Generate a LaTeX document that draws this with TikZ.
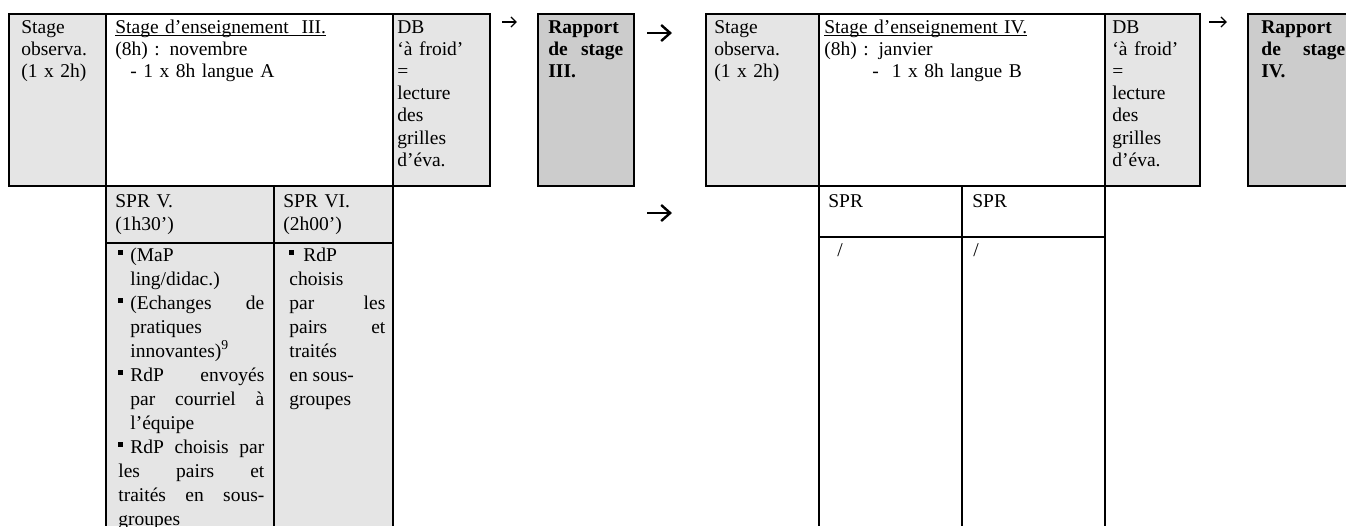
\documentclass[tikz,border=0pt]{standalone}
\usepackage{fontspec}
\setmainfont{Liberation Serif}
\usetikzlibrary{arrows.meta}

% small square bullet with hanging indent
\newcommand{\sqbul}[1]{\hangindent=#1\hangafter=1\noindent\makebox[#1][l]{\raisebox{3.2pt}{\rule{2.5pt}{2.5pt}}}}
% thin underline close to the baseline
\newsavebox{\ulbox}
\newcommand{\ulin}[1]{\sbox{\ulbox}{#1}\rlap{\rule[-1.6pt]{\wd\ulbox}{0.5pt}}\usebox{\ulbox}}

\begin{document}
\begin{tikzpicture}[x=0.5pt, y=-0.5pt,
    tablerule/.style={line width=1.1pt},
    litecell/.style={fill=gray!20},
    darkcell/.style={fill=gray!40},
    txt/.style={anchor=base west, inner sep=0pt, align=left,
                font=\fontsize{9.75}{11.1}\selectfont},
    bultxt/.style={txt, align=justify, font=\fontsize{9.75}{12}\selectfont},
    smallarr/.style={line width=0.6pt, -{Straight Barb[length=2.6pt, width=5pt]}},
    bigarr/.style={line width=1.2pt, -{Straight Barb[length=4.5pt, width=8pt]}}]
    \useasboundingbox (0,0) rectangle (1346,526);
    \clip (0,0) rectangle (1346,526);

    % left block: stage III
    \fill [litecell] (9,14) rectangle (106,186);       % stage observa.
    \fill [litecell] (393,14) rectangle (490,186);     % DB
    \fill [litecell] (106,186) rectangle (393,526);    % SPR V. / VI.
    \draw [tablerule] (9,14) rectangle (490,186);
    \draw [tablerule] (106,14) -- (106,526);
    \draw [tablerule] (393,14) -- (393,526);
    \draw [tablerule] (274,186) -- (274,526);
    \draw [tablerule] (106,243) -- (393,243);
    \draw [tablerule, darkcell] (538,14) rectangle (634,186); % rapport III

    % right block: stage IV
    \fill [litecell] (706,14) rectangle (819,186);
    \fill [litecell] (1105,14) rectangle (1200,186);
    \draw [tablerule] (706,14) rectangle (1200,186);
    \draw [tablerule] (819,14) -- (819,526);
    \draw [tablerule] (1105,14) -- (1105,526);
    \draw [tablerule] (962,186) -- (962,526);
    \draw [tablerule] (819,237) -- (1105,237);
    \draw [tablerule, darkcell] (1248,14) rectangle (1400,186); % rapport IV

    % texts of stage III
    \node [txt, text width=42pt] (obsIII) at (21,33) {Stage\\observa.\\(1 x 2h)};
    \node [txt, text width=135pt] (ensIII) at (115,33) {\ulin{Stage d’enseignement\ \ III.}\\(8h) : novembre\\\hspace*{7.5pt}- 1 x 8h langue A};
    \node [txt, text width=44pt] (dbIII) at (397,33) {DB\\‘à froid’\\=\\lecture\\des\\grilles\\d’éva.};
    \node [txt, align=justify, text width=37.5pt, font=\fontsize{9.75}{11.1}\selectfont\bfseries] (rapIII) at (548,33) {Rapport de stage III.};
    \node [txt, text width=78pt, font=\fontsize{9.75}{11.5}\selectfont] (sprV) at (115,207) {SPR V.\\(1h30’)};
    \node [txt, text width=50pt, font=\fontsize{9.75}{11.5}\selectfont] (sprVI) at (283,207) {SPR VI.\\(2h00’)};
    \node [bultxt, text width=73pt] (bulV) at (118,261) {%
        \sqbul{6pt}(MaP\\ ling/didac.)\par
        \sqbul{6pt}(Echanges de\linebreak pratiques\\ innovantes)\textsuperscript{9}\par
        \sqbul{6pt}RdP envoyés\linebreak par courriel à\linebreak l’équipe\par
        \sqbul{6pt}RdP choisis par\linebreak les pairs et\linebreak traités en sous-\linebreak groupes};
    \node [bultxt, text width=48pt] (bulVI) at (289,261) {%
        \sqbul{7pt}RdP\\ choisis\\ par les\linebreak pairs et\linebreak traités\\ en sous-\\ groupes};

    % texts of stage IV
    \node [txt, text width=50pt] (obsIV) at (714,33) {Stage\\observa.\\(1 x 2h)};
    \node [txt, text width=135pt] (ensIV) at (824,33) {\ulin{Stage d’enseignement IV.}\\(8h) : janvier\\\hspace*{24pt}-\ \ 1 x 8h langue B};
    \node [txt, text width=44pt] (dbIV) at (1112,33) {DB\\‘à froid’\\=\\lecture\\des\\grilles\\d’éva.};
    \node [txt, align=justify, text width=42pt, font=\fontsize{9.75}{11.1}\selectfont\bfseries] (rapIV) at (1261,33) {Rapport de stage IV.};
    \node [txt] (sprA) at (828,207) {SPR};
    \node [txt] (sprB) at (972,207) {SPR};
    \node [txt] (slashA) at (837,256) {/};
    \node [txt] (slashB) at (973,256) {/};

    % arrows
    \coordinate (dbIIIout) at (502,22);  \coordinate (rapIIIin) at (517,22);
    \coordinate (rapIIIout) at (647,33); \coordinate (obsIVin) at (672,33);
    \coordinate (sprout) at (647,213);   \coordinate (sprin) at (672,213);
    \coordinate (dbIVout) at (1209,22);  \coordinate (rapIVin) at (1227,22);
    \draw [smallarr] (dbIIIout) -- (rapIIIin);
    \draw [bigarr] (rapIIIout) -- (obsIVin);
    \draw [bigarr] (sprout) -- (sprin);
    \draw [smallarr] (dbIVout) -- (rapIVin);
\end{tikzpicture}
\end{document}
